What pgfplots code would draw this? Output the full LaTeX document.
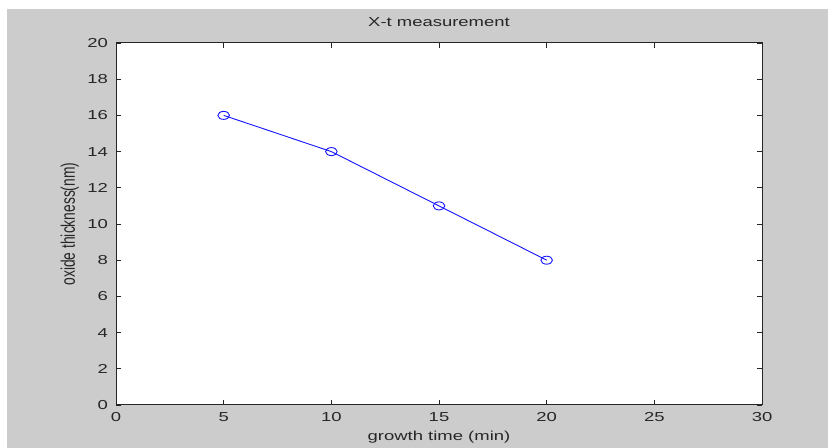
\documentclass[border=0pt]{standalone}
\usepackage{pgfplots}
\pgfplotsset{compat=1.18}
\usepackage{fontspec}
\setmainfont{Liberation Sans}
\usepackage{graphicx}
% wide, screen-style lettering
\newcommand{\wide}[1]{\scalebox{1.42}[1]{#1}}
\newcommand{\tall}[1]{\scalebox{1}[1.42]{#1}}
\definecolor{figgrey}{RGB}{204,204,204}
\begin{document}
\begin{tikzpicture}[x=1bp,y=1bp]
\useasboundingbox (0,0) rectangle (828,448);
\fill[white] (0,0) rectangle (828,448);
\fill[figgrey] (7,0) rectangle (828,439);
\begin{axis}[
  at={(116bp,43bp)}, anchor=south west,
  scale only axis, width=646bp, height=362bp,
  xmin=0, xmax=30, ymin=0, ymax=20,
  xtick={0,5,...,30}, ytick={0,2,...,20},
  axis background/.style={fill=white},
  axis line style={line width=1bp, black!85},
  tick style={line width=0.9bp, black!85},
  tick align=inside, major tick length=5bp,
  /pgf/number format/assume math mode=true,
  font=\fontsize{13bp}{15bp}\selectfont,
  xticklabel={\wide{\pgfmathprintnumber{\tick}}},
  yticklabel={\wide{\pgfmathprintnumber{\tick}}},
  xticklabel style={anchor=base, inner sep=0pt, yshift=-17bp, text=black!85},
  yticklabel style={anchor=east, inner sep=0pt, xshift=-8bp, text=black!85},
  title={\wide{X-t measurement}},
  title style={at={(axis description cs:0.5,1.0304)}, anchor=base, inner sep=0pt, text=black!85},
  xlabel={\wide{growth time (min)}},
  xlabel style={at={(axis description cs:0.5,-0.0994)}, anchor=base, inner sep=0pt, text=black!85},
  ylabel={\tall{oxide thickness(nm)}},
  ylabel style={at={(axis description cs:-0.0635,0.5)}, anchor=base, rotate=0, inner sep=0pt,
    text=black!85, font=\fontsize{13.8bp}{16bp}\selectfont},
]
\addplot[color={rgb,255:red,20;green,20;blue,255}, line width=0.9bp,
  mark=o, mark size=4bp, mark options={xscale=1.45, line width=0.9bp}]
  coordinates {(5,16) (10,14) (15,11) (20,8)};
\end{axis}
\end{tikzpicture}
\end{document}
